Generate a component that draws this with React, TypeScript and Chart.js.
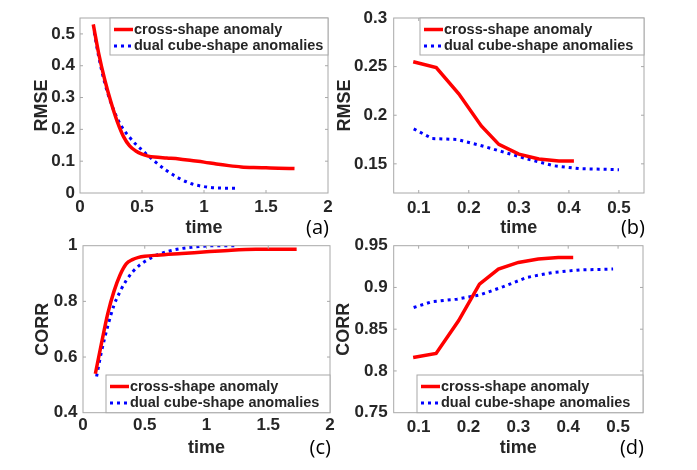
import React, { useEffect, useRef } from "react";
import { Chart, registerables } from "chart.js";

Chart.register(...registerables);

// ---------- data ----------
const seriesNames = ["cross-shape anomaly", "dual cube-shape anomalies"];
const panelLabels = ["(a)", "(b)", "(c)", "(d)"];
const axisTitleX = "time";
const axisTitlesY = ["RMSE", "RMSE", "CORR", "CORR"];

// (a) RMSE, long time range
const aCrossTime = [0.107, 0.15, 0.2, 0.25, 0.3, 0.35, 0.4, 0.45, 0.5, 0.55, 0.6, 0.7, 0.8, 0.9, 1.0, 1.1, 1.2, 1.3, 1.4, 1.5, 1.6, 1.73];
const aCrossRmse = [0.53, 0.44, 0.355, 0.285, 0.225, 0.178, 0.148, 0.132, 0.122, 0.116, 0.113, 0.11, 0.107, 0.102, 0.097, 0.091, 0.086, 0.082, 0.08, 0.079, 0.078, 0.077];
const aDualTime = [0.115, 0.15, 0.2, 0.25, 0.3, 0.35, 0.4, 0.45, 0.5, 0.55, 0.6, 0.7, 0.8, 0.9, 1.0, 1.1, 1.26];
const aDualRmse = [0.505, 0.43, 0.345, 0.283, 0.235, 0.2, 0.175, 0.153, 0.135, 0.117, 0.1, 0.07, 0.046, 0.029, 0.02, 0.016, 0.015];

// (b) RMSE, short time range
const bCrossTime = [0.089, 0.135, 0.18, 0.225, 0.26, 0.3, 0.34, 0.38, 0.41];
const bCrossRmse = [0.255, 0.249, 0.222, 0.189, 0.17, 0.16, 0.155, 0.153, 0.153];
const bDualTime = [0.09, 0.127, 0.177, 0.223, 0.27, 0.317, 0.37, 0.423, 0.5];
const bDualRmse = [0.186, 0.176, 0.175, 0.169, 0.162, 0.155, 0.148, 0.145, 0.144];

// (c) CORR, long time range
const cCrossTime = [0.1, 0.15, 0.2, 0.25, 0.3, 0.35, 0.4, 0.45, 0.5, 0.6, 0.8, 1.0, 1.2, 1.4, 1.73];
const cCrossCorr = [0.54, 0.65, 0.755, 0.835, 0.895, 0.935, 0.95, 0.958, 0.962, 0.966, 0.972, 0.978, 0.984, 0.987, 0.987];
const cDualTime = [0.11, 0.15, 0.2, 0.25, 0.3, 0.35, 0.4, 0.45, 0.5, 0.6, 0.7, 0.8, 0.9, 1.0, 1.1, 1.23];
const cDualCorr = [0.53, 0.62, 0.71, 0.785, 0.835, 0.875, 0.905, 0.927, 0.943, 0.967, 0.981, 0.99, 0.995, 0.999, 1.0, 1.0];

// (d) CORR, short time range
const dCrossTime = [0.089, 0.135, 0.18, 0.222, 0.26, 0.3, 0.34, 0.38, 0.41];
const dCrossCorr = [0.816, 0.821, 0.86, 0.904, 0.922, 0.93, 0.934, 0.936, 0.936];
const dDualTime = [0.09, 0.127, 0.177, 0.223, 0.27, 0.317, 0.37, 0.423, 0.49];
const dDualCorr = [0.876, 0.883, 0.886, 0.891, 0.901, 0.912, 0.918, 0.921, 0.922];

// tick values and labels
const wideTimeTicks = [0, 0.5, 1, 1.5, 2];
const wideTimeLabels = ["0", "0.5", "1", "1.5", "2"];
const narrowTimeTicks = [0.1, 0.2, 0.3, 0.4, 0.5];
const narrowTimeLabels = ["0.1", "0.2", "0.3", "0.4", "0.5"];
const aRmseTicks = [0, 0.1, 0.2, 0.3, 0.4, 0.5];
const aRmseLabels = ["0", "0.1", "0.2", "0.3", "0.4", "0.5"];
const bRmseTicks = [0.15, 0.2, 0.25, 0.3];
const bRmseLabels = ["0.15", "0.2", "0.25", "0.3"];
const cCorrTicks = [0.4, 0.6, 0.8, 1];
const cCorrLabels = ["0.4", "0.6", "0.8", "1"];
const dCorrTicks = [0.75, 0.8, 0.85, 0.9, 0.95];
const dCorrLabels = ["0.75", "0.8", "0.85", "0.9", "0.95"];

// ---------- styling / layout ----------
const PAGE_W = 697;
const PAGE_H = 470;
const FONT = '"Liberation Sans", Arial, sans-serif';
const TEXT_COLOR = "#262626";
const BOX_COLOR = "#a8a8a8";
const RED = "#ff0000";
const BLUE = "#0000ff";
const TICK_SIZE = 17;
const TICK_LH = TICK_SIZE * 1.2;
const TITLE_SIZE = 18;
const TITLE_LH = TITLE_SIZE * 1.2;

const zip = (xs: number[], ys: number[]) => xs.map((x, i) => ({ x, y: ys[i] }));

type Panel = {
  area: { left: number; top: number; right: number; bottom: number };
  xRange: [number, number];
  yRange: [number, number];
  xTicks: number[];
  xLabels: string[];
  yTicks: number[];
  yLabels: string[];
  yTitle: string;
  yTitleCenterX: number;
  xTitleCenterY: number;
  xTickCenterOffset: number;
  yTickPad: number;
  legend: { left: number; top: number; right: number; bottom: number };
  label: string;
  cross: { x: number; y: number }[];
  dual: { x: number; y: number }[];
  smooth: boolean;
};

const panels: Panel[] = [
  {
    area: { left: 80, top: 18, right: 328, bottom: 193 },
    xRange: [0, 2], yRange: [0, 0.55],
    xTicks: wideTimeTicks, xLabels: wideTimeLabels,
    yTicks: aRmseTicks, yLabels: aRmseLabels,
    yTitle: axisTitlesY[0], yTitleCenterX: 42, xTitleCenterY: 228,
    xTickCenterOffset: 14.5, yTickPad: 5,
    legend: { left: 110, top: 18, right: 328, bottom: 55 },
    label: panelLabels[0],
    cross: zip(aCrossTime, aCrossRmse), dual: zip(aDualTime, aDualRmse), smooth: true,
  },
  {
    area: { left: 393.7, top: 18, right: 644, bottom: 193 },
    xRange: [0.05, 0.55], yRange: [0.12, 0.3],
    xTicks: narrowTimeTicks, xLabels: narrowTimeLabels,
    yTicks: bRmseTicks, yLabels: bRmseLabels,
    yTitle: axisTitlesY[1], yTitleCenterX: 345, xTitleCenterY: 228,
    xTickCenterOffset: 15.5, yTickPad: 6.5,
    legend: { left: 420, top: 18, right: 644, bottom: 55 },
    label: panelLabels[1],
    cross: zip(bCrossTime, bCrossRmse), dual: zip(bDualTime, bDualRmse), smooth: false,
  },
  {
    area: { left: 83, top: 245.7, right: 330, bottom: 412.7 },
    xRange: [0, 2], yRange: [0.4, 1],
    xTicks: wideTimeTicks, xLabels: wideTimeLabels,
    yTicks: cCorrTicks, yLabels: cCorrLabels,
    yTitle: axisTitlesY[2], yTitleCenterX: 43, xTitleCenterY: 448,
    xTickCenterOffset: 13, yTickPad: 5.5,
    legend: { left: 106, top: 375, right: 330, bottom: 412.7 },
    label: panelLabels[2],
    cross: zip(cCrossTime, cCrossCorr), dual: zip(cDualTime, cDualCorr), smooth: true,
  },
  {
    area: { left: 393.7, top: 245.7, right: 643, bottom: 412.7 },
    xRange: [0.05, 0.55], yRange: [0.75, 0.95],
    xTicks: narrowTimeTicks, xLabels: narrowTimeLabels,
    yTicks: dCorrTicks, yLabels: dCorrLabels,
    yTitle: axisTitlesY[3], yTitleCenterX: 344, xTitleCenterY: 448,
    xTickCenterOffset: 14.5, yTickPad: 6,
    legend: { left: 417, top: 375, right: 643, bottom: 412.7 },
    label: panelLabels[3],
    cross: zip(dCrossTime, dCrossCorr), dual: zip(dDualTime, dDualCorr), smooth: false,
  },
];

const decorPlugin = {
  id: "matlabDecor",
  afterDraw(chart: any, _args: any, opts: any) {
    const p: Panel = opts.panel;
    if (!p) return;
    const ctx = chart.ctx as CanvasRenderingContext2D;
    const { left, top, right, bottom } = chart.chartArea;
    const xs = chart.scales.x;
    const ys = chart.scales.y;
    ctx.save();
    // axes box
    ctx.strokeStyle = BOX_COLOR;
    ctx.lineWidth = 1;
    ctx.strokeRect(left, top, right - left, bottom - top);
    // inward ticks on all sides
    const tl = 3;
    ctx.beginPath();
    p.xTicks.forEach((v) => {
      const px = xs.getPixelForValue(v);
      if (px <= left + 1 || px >= right - 1) return;
      ctx.moveTo(px, bottom); ctx.lineTo(px, bottom - tl);
      ctx.moveTo(px, top); ctx.lineTo(px, top + tl);
    });
    p.yTicks.forEach((v) => {
      const py = ys.getPixelForValue(v);
      if (py <= top + 1 || py >= bottom - 1) return;
      ctx.moveTo(left, py); ctx.lineTo(left + tl, py);
      ctx.moveTo(right, py); ctx.lineTo(right - tl, py);
    });
    ctx.stroke();

    // legend
    const lg = p.legend;
    ctx.fillStyle = "#ffffff";
    ctx.fillRect(lg.left, lg.top, lg.right - lg.left, lg.bottom - lg.top);
    ctx.strokeStyle = BOX_COLOR;
    ctx.strokeRect(lg.left, lg.top, lg.right - lg.left, lg.bottom - lg.top);
    const row1 = lg.top + 11.5;
    const row2 = lg.top + 28;
    const sx0 = lg.left + 4;
    const sx1 = lg.left + 23;
    ctx.lineWidth = 3.5;
    ctx.strokeStyle = RED;
    ctx.setLineDash([]);
    ctx.beginPath(); ctx.moveTo(sx0, row1); ctx.lineTo(sx1, row1); ctx.stroke();
    ctx.lineWidth = 3;
    ctx.strokeStyle = BLUE;
    ctx.setLineDash([3, 4]);
    ctx.beginPath(); ctx.moveTo(sx0, row2); ctx.lineTo(sx1, row2); ctx.stroke();
    ctx.setLineDash([]);
    ctx.fillStyle = TEXT_COLOR;
    ctx.font = `bold 14.5px ${FONT}`;
    ctx.textAlign = "left";
    ctx.textBaseline = "middle";
    ctx.fillText(seriesNames[0], lg.left + 24, row1);
    ctx.fillText(seriesNames[1], lg.left + 24, row2);

    // panel label
    ctx.fillStyle = "#000000";
    ctx.font = `20px "Open Sans", "DejaVu Sans", sans-serif`;
    ctx.textAlign = "right";
    ctx.fillText(p.label, right + 1, p.xTitleCenterY);
    ctx.restore();
  },
};

function buildChart(canvas: HTMLCanvasElement, p: Panel) {
  const yScaleLeft = p.yTitleCenterX - TITLE_LH / 2;
  const yW = p.area.left - yScaleLeft;
  const xScaleBottom = p.xTitleCenterY + TITLE_LH / 2;
  const xH = xScaleBottom - p.area.bottom;
  const tickFont = { family: FONT, size: TICK_SIZE, weight: "bold" as const };
  const titleFont = { family: FONT, size: TITLE_SIZE, weight: "bold" as const };

  return new Chart(canvas, {
    type: "line",
    data: {
      datasets: [
        {
          label: seriesNames[0],
          data: p.cross,
          borderColor: RED,
          backgroundColor: RED,
          borderWidth: 3.5,
          pointRadius: 0,
          fill: false,
          tension: p.smooth ? 0.4 : 0,
          cubicInterpolationMode: p.smooth ? "monotone" : "default",
        },
        {
          label: seriesNames[1],
          data: p.dual,
          borderColor: BLUE,
          backgroundColor: BLUE,
          borderWidth: 3,
          borderDash: [3, 4],
          pointRadius: 0,
          fill: false,
          tension: p.smooth ? 0.4 : 0,
          cubicInterpolationMode: p.smooth ? "monotone" : "default",
        },
      ],
    },
    options: {
      animation: false,
      responsive: false,
      maintainAspectRatio: false,
      events: [],
      layout: {
        padding: {
          left: yScaleLeft,
          top: p.area.top,
          right: PAGE_W - p.area.right,
          bottom: PAGE_H - xScaleBottom,
        },
      },
      plugins: {
        legend: { display: false },
        tooltip: { enabled: false },
        matlabDecor: { panel: p },
      } as any,
      scales: {
        x: {
          type: "linear",
          min: p.xRange[0],
          max: p.xRange[1],
          grid: { display: false, drawTicks: false },
          border: { display: false },
          afterBuildTicks: (s: any) => { s.ticks = p.xTicks.map((v) => ({ value: v })); },
          afterFit: (s: any) => { s.height = xH; },
          ticks: {
            autoSkip: false,
            maxRotation: 0,
            padding: p.xTickCenterOffset - TICK_LH / 2,
            color: TEXT_COLOR,
            font: tickFont,
            callback: (_v: any, i: number) => p.xLabels[i],
          },
          title: {
            display: true,
            text: axisTitleX,
            color: TEXT_COLOR,
            font: titleFont,
            padding: { top: 0, bottom: 0 },
          },
        },
        y: {
          type: "linear",
          min: p.yRange[0],
          max: p.yRange[1],
          grid: { display: false, drawTicks: false },
          border: { display: false },
          afterBuildTicks: (s: any) => { s.ticks = p.yTicks.map((v) => ({ value: v })); },
          afterFit: (s: any) => { s.width = yW; },
          ticks: {
            autoSkip: false,
            padding: p.yTickPad,
            color: TEXT_COLOR,
            font: tickFont,
            callback: (_v: any, i: number) => p.yLabels[i],
          },
          title: {
            display: true,
            text: p.yTitle,
            color: TEXT_COLOR,
            font: titleFont,
            padding: { top: 0, bottom: 0 },
          },
        },
      },
    },
    plugins: [decorPlugin],
  } as any);
}

function PanelCanvas({ panel }: { panel: Panel }) {
  const ref = useRef<HTMLCanvasElement | null>(null);
  useEffect(() => {
    if (!ref.current) return;
    const chart = buildChart(ref.current, panel);
    const fonts = (document as any).fonts;
    if (fonts && fonts.load) {
      Promise.all([
        fonts.load(`bold 17px "Liberation Sans"`),
        fonts.load(`20px "Open Sans"`),
      ]).then(() => { try { chart.update(); } catch (e) { /* destroyed */ } }).catch(() => {});
    }
    return () => chart.destroy();
  }, [panel]);
  return (
    <canvas
      ref={ref}
      width={PAGE_W}
      height={PAGE_H}
      style={{ position: "absolute", left: 0, top: 0, width: PAGE_W, height: PAGE_H }}
    />
  );
}

export default function App() {
  return (
    <div
      style={{
        position: "absolute",
        left: 0,
        top: 0,
        width: PAGE_W,
        height: PAGE_H,
        background: "#ffffff",
        overflow: "hidden",
      }}
    >
      {panels.map((p, i) => (
        <PanelCanvas key={i} panel={p} />
      ))}
    </div>
  );
}
